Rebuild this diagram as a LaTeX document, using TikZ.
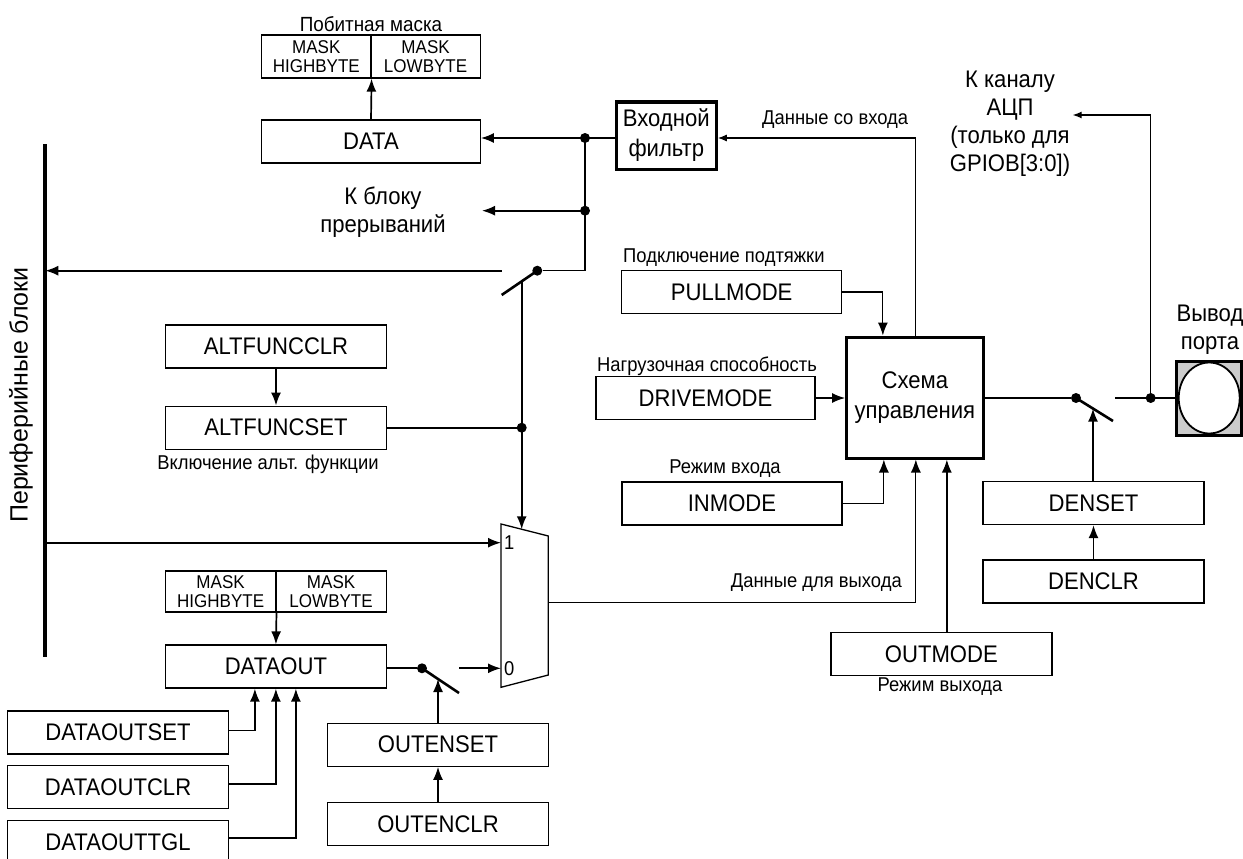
\documentclass[tikz,border=0pt]{standalone}
\usepackage{fontspec}
\setmainfont{Liberation Sans}[FakeStretch=0.92]
\newfontfamily\widefont{Liberation Sans}
\usepackage{tikz}
\usetikzlibrary{arrows.meta,calc}

\tikzset{
  reg/.style={draw, line width=1.3pt, minimum width=221pt, minimum height=43pt, inner sep=0pt, font=\fontsize{24}{26}\selectfont},
  half/.style={draw, line width=1.3pt, minimum width=109.3pt, minimum height=43pt, inner sep=0pt, align=center, font=\fontsize{18.5}{19}\selectfont},
  blk/.style={draw, line width=3pt, inner sep=0pt, align=center, font=\fontsize{24}{30}\selectfont},
  lbl/.style={inner sep=0pt, font=\fontsize{20}{22}\selectfont},
  big/.style={inner sep=0pt, align=center, font=\fontsize{24}{28}\selectfont},
  wire/.style={line width=1.7pt},
  wirethin/.style={line width=1.2pt},
  blade/.style={line width=2.6pt},
  jdot/.style={circle, fill, inner sep=0pt, minimum size=10pt},
  tipsmall/.style={-{Latex[length=9pt,width=7pt]}},
}

\begin{document}
\begin{tikzpicture}[x=1pt, y=-1pt, >={Latex[length=13pt,width=10pt]}]
  \useasboundingbox (0,0) rectangle (1243,859);

  \node[lbl, font=\fontsize{20.5}{22}\selectfont] (mtitle) at (371,24) {Побитная маска};
  \node[half] (mhi) at (316.3,56.5) {MASK\\HIGHBYTE};
  \node[half] (mlo) at (425.6,56.5) {MASK\\LOWBYTE};
  \node[reg, minimum width=218.5pt] (data) at (371,141.5) {DATA};
  \draw[wire,->] (data.north) -- (mhi.south east);

  \node[blk, minimum width=100pt, minimum height=67pt] (filt) at (666.3,135.5) {Входной\\фильтр};
  \coordinate (jd) at (585,138);
  \coordinate (ji) at (585,210.7);
  \coordinate (jsw) at (585,270.7);
  \draw[wire,->] (filt.west |- jd) -- (jd) -- (data.east |- jd);
  \node[jdot] (dd) at (jd) {};
  \node[jdot] (di) at (ji) {};
  \node[big] (irq) at (383,212) {К блоку\\прерываний};
  \coordinate (irqin) at (482,210.7);
  \draw[wire,->] (ji) -- (irqin);

  \node[jdot] (sw1) at (537.3,270.7) {};
  \draw[wirethin] (jd) -- (jsw) -- (sw1);
  \coordinate (sw1e) at (501.7,295);
  \coordinate (sw1l) at (501.7,270.7);
  \coordinate (swtap) at (521.7,281.3);
  \draw[blade] (sw1.center) -- (sw1e);

  \coordinate (bart) at (45.3,144);
  \coordinate (barb) at (45.3,657);
  \draw[line width=4pt] (bart) -- (barb);
  \node[rotate=90, inner sep=0pt, font=\widefont\fontsize{25}{28}\selectfont] (periph) at (21,395) {Периферийные блоки};
  \draw[wire,->] (sw1l) -- (bart |- sw1l);

  \node[reg] (altclr) at (276,346.5) {ALTFUNCCLR};
  \node[reg] (altset) at (276,427.7) {ALTFUNCSET};
  \node[lbl] (altlbl) at (268,464) {Включение альт. функции};
  \draw[wire,->] (altclr) -- (altset);
  \node[jdot] (jalt) at (521.7,427.7) {};
  \draw[wire] (altset.east) -- (jalt);

  \coordinate (mux1) at (501,542.7);
  \coordinate (mux0) at (501,668.3);
  \coordinate (muxs) at (521.7,529.3);
  \coordinate (muxo) at (548.3,602.7);
  \draw[line width=1.3pt] (501,524) -- (548.3,536) -- (548.3,675) -- (501,687.3) -- cycle;
  \node[lbl, anchor=west] (in1) at ([xshift=3pt]mux1) {1};
  \node[lbl, anchor=west] (in0) at ([xshift=3pt]mux0) {0};
  \draw[wire,->] (swtap) -- (muxs);
  \draw[wire,->] (bart |- mux1) -- (mux1);

  \node[half, minimum width=110.5pt, minimum height=41pt] (mhi2) at (220.6,591.5) {MASK\\HIGHBYTE};
  \node[half, minimum width=110.5pt, minimum height=41pt] (mlo2) at (331.1,591.5) {MASK\\LOWBYTE};
  \node[reg] (dout) at (275.9,666.5) {DATAOUT};
  \draw[wire,->] (mhi2.south east) -- (dout.north);

  \node[jdot] (sw2) at (422,668.3) {};
  \coordinate (sw2e) at (459,693);
  \coordinate (sw2r) at (459,668.3);
  \draw[wire] (dout.east |- sw2) -- (sw2);
  \draw[blade] (sw2.center) -- (sw2e);
  \draw[wire,->] (sw2r) -- (mux0);
  \node[reg] (oset) at (438,744.7) {OUTENSET};
  \node[reg] (oclr) at (438,824) {OUTENCLR};
  \draw[wire,->] (oclr) -- (oset);
  \draw[wire,->] (oset.north) -- (438,679);

  \node[reg] (dset) at (118,732.5) {DATAOUTSET};
  \node[reg] (dclr) at (118,787) {DATAOUTCLR};
  \node[reg] (dtgl) at (118,842.2) {DATAOUTTGL};
  \draw[wire,->] ([yshift=2pt]dset.east) -| ([xshift=-21pt]dout.south);
  \draw[wire,->] ([yshift=3pt]dclr.east) -| (dout.south);
  \draw[wire,->] ([yshift=4pt]dtgl.east) -| ([xshift=20pt]dout.south);

  \node[blk, minimum width=136.3pt, minimum height=121pt] (ctrl) at (914.85,397.5) {Схема\\управления};

  \node[reg, minimum width=220pt] (pull) at (731.7,292) {PULLMODE};
  \node[lbl, anchor=west] (pulllbl) at (623,258) {Подключение подтяжки};
  \draw[wirethin,->] (pull.east) -| ([xshift=-32pt]ctrl.north);

  \node[reg, minimum width=219pt] (drive) at (705.5,398) {DRIVEMODE};
  \node[lbl, anchor=west] (drivelbl) at (597,366) {Нагрузочная способность};
  \draw[wire,->] (drive.east) -- (drive.east -| ctrl.west);

  \node[reg, minimum width=220pt] (inm) at (732,503.4) {INMODE};
  \node[lbl] (inmlbl) at (725,469) {Режим входа};
  \draw[wirethin,->] (inm.east) -| ([xshift=-31pt]ctrl.south);

  \draw[wirethin,->] (muxo) -| ([xshift=1pt]ctrl.south);
  \node[lbl, anchor=east] (outdlbl) at (902,583) {Данные для выхода};

  \node[reg] (outm) at (941.4,654) {OUTMODE};
  \node[lbl] (outmlbl) at (940,687) {Режим выхода};
  \draw[wire,->] ([xshift=32pt]ctrl.south |- outm.north) -- ([xshift=32pt]ctrl.south);

  \draw[wirethin,tipsmall] ([xshift=1pt]ctrl.north) |- (filt.east |- jd);
  \node[lbl, anchor=west] (indlbl) at (762,120) {Данные со входа};

  \node[jdot] (sw3) at (1076,398) {};
  \coordinate (sw3e) at (1113,421);
  \coordinate (sw3r) at (1115,398);
  \draw[wirethin] (ctrl.east |- sw3) -- (sw3);
  \draw[blade] (sw3.center) -- (sw3e);

  \node[reg] (denset) at (1093.5,503) {DENSET};
  \node[reg] (denclr) at (1093.5,581.4) {DENCLR};
  \draw[wire,->] (denclr) -- (denset);
  \draw[wire,->] (denset.north -| 1093,0) -- (1093,408.6);

  \node[draw, line width=3pt, fill=gray!40, minimum width=65pt, minimum height=74pt, inner sep=0pt] (port) at (1209.2,398) {};
  \draw[line width=1.8pt, fill=white] (port.center) ellipse (30.5pt and 35.5pt);
  \node[big] (portlbl) at (1210,329.5) {Вывод\\порта};
  \node[jdot] (jp) at (1150.7,398) {};
  \draw[wirethin] (sw3r) -- (port.west);

  \node[big] (adc) at (1010,123.3) {К каналу\\АЦП\\(только для\\GPIOB[3:0])};
  \coordinate (adcin) at (1072.7,115);
  \draw[wirethin,tipsmall] (jp) |- (adcin);
\end{tikzpicture}
\end{document}
